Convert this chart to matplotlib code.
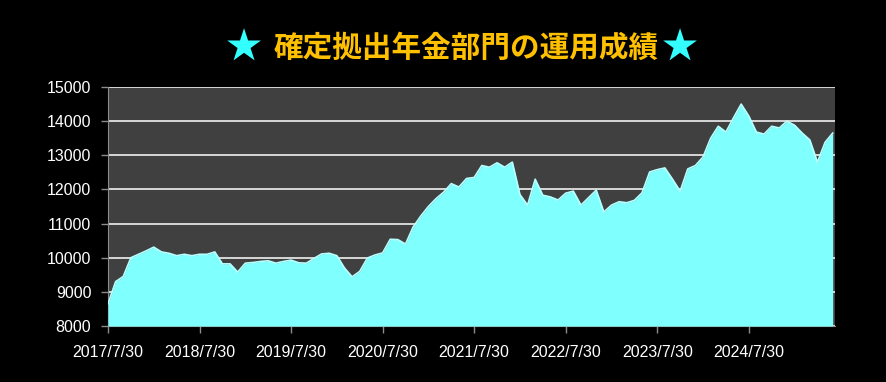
import numpy as np
import matplotlib
matplotlib.use("Agg")
import matplotlib.pyplot as plt

# monthly values
values = [
    8650, 9300, 9450, 10000, 10100, 10200, 10310, 10170, 10130, 10060, 10100, 10060,
    10100, 10100, 10170, 9820, 9820, 9580, 9840, 9860, 9890, 9910, 9840, 9890,
    9930, 9850, 9840, 9980, 10110, 10130, 10060, 9700, 9440, 9600, 9990, 10080,
    10140, 10540, 10530, 10400, 10900, 11220, 11500, 11730, 11920, 12170, 12070, 12320,
    12350, 12700, 12650, 12780, 12650, 12800, 11850, 11540, 12300, 11830, 11780, 11690,
    11890, 11950, 11540, 11760, 11980, 11340, 11540, 11640, 11610, 11680, 11900, 12510,
    12580, 12630, 12300, 11950, 12600, 12700, 12950, 13500, 13850, 13680, 14100, 14500,
    14150, 13680, 13620, 13850, 13800, 14000, 13880, 13650, 13450, 12800, 13380, 13650,
]
tick_labels = ["2017/7/30", "2018/7/30", "2019/7/30", "2020/7/30",
               "2021/7/30", "2022/7/30", "2023/7/30", "2024/7/30"]
y_ticks = [8000, 9000, 10000, 11000, 12000, 13000, 14000, 15000]
title_text = "確定拠出年金部門の運用成績"

x = np.arange(len(values))

fig = plt.figure(figsize=(8.87, 3.82), dpi=100, facecolor="black")
ax = fig.add_axes([108/887, 1-326/382, (835-108)/887, (326-87)/382])
ax.set_facecolor("#404040")

ax.fill_between(x, values, 8000, color="#80FFFF", lw=0, zorder=3)
ax.plot(x, values, color="#B8FFFF", lw=1.2, zorder=4)

ax.set_xlim(0, len(values) - 1 + 0.3)
ax.set_ylim(8000, 15000)
ax.set_yticks(y_ticks)
ax.set_xticks(x[::12])
ax.set_xticklabels(tick_labels)
ax.yaxis.grid(True, color="white", lw=1.1, zorder=1)
ax.set_axisbelow(True)

for s in ["top", "right"]:
    ax.spines[s].set_visible(False)
for s in ["left", "bottom"]:
    ax.spines[s].set_color("#8C8C8C")
ax.tick_params(colors="#8C8C8C", length=5, width=1)
ax.tick_params(axis="y", pad=7)
ax.tick_params(axis="x", pad=9)
for lbl in ax.get_xticklabels() + ax.get_yticklabels():
    lbl.set_color("white")
    lbl.set_fontfamily("Liberation Sans")
    lbl.set_fontsize(11.5)

# title: gold text with cyan stars
cjk = ["Noto Sans CJK JP", "DejaVu Sans"]
fig.text(243.5/887, 1-48/382, "★", color="#33FFFF", fontsize=26,
         family=cjk, ha="center", va="center")
fig.text(466/887, 1-48/382, title_text, color="#FFC000", fontsize=21.3,
         fontweight="bold", family=cjk, ha="center", va="center")
fig.text(680/887, 1-48/382, "★", color="#33FFFF", fontsize=26,
         family=cjk, ha="center", va="center")

fig.savefig("out.png", dpi=100, facecolor="black")
